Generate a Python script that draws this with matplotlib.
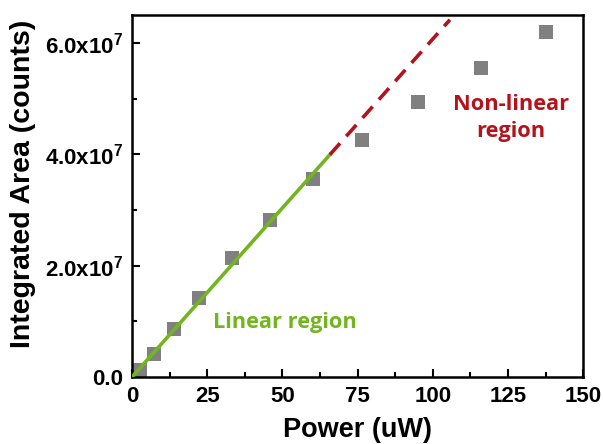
import matplotlib
matplotlib.use("Agg")
import matplotlib.pyplot as plt
from matplotlib.ticker import MultipleLocator
import numpy as np

plt.rcParams['font.family'] = ['Liberation Sans', 'DejaVu Sans']
plt.rcParams['mathtext.fontset'] = 'custom'
plt.rcParams['mathtext.rm'] = 'Liberation Sans:bold'
plt.rcParams['mathtext.bf'] = 'Liberation Sans:bold'
plt.rcParams['mathtext.default'] = 'bf'

# Data
power_uW = [2.7, 7.3, 13.9, 22.3, 33.2, 46.0, 60.3, 76.4, 95.2, 116.1, 137.7]
area_counts = [0.12e7, 0.41e7, 0.86e7, 1.42e7, 2.13e7, 2.82e7, 3.55e7, 4.25e7, 4.93e7, 5.55e7, 6.20e7]
fit_slope = 6.07e5
linear_x = [0, 65.8]
nonlinear_x = [65.8, 105.7]
yticks = [0, 2e7, 4e7, 6e7]
ytick_labels = ["0.0", r"2.0x10$^{7}$", r"4.0x10$^{7}$", r"6.0x10$^{7}$"]
xticks = [0, 25, 50, 75, 100, 125, 150]

green = '#72B51E'
red = '#B5121B'

fig = plt.figure(figsize=(6.03, 4.44), dpi=100)
ax = fig.add_axes([0.219, 0.151, 0.748, 0.815])

ax.plot(power_uW, area_counts, 's', color='#808080', markersize=10.5,
        markeredgewidth=0, clip_on=False, zorder=2)
lx = np.array(linear_x)
ax.plot(lx, fit_slope * lx, '-', color=green, lw=2.6, zorder=3)
nx = np.array(nonlinear_x)
ax.plot(nx, fit_slope * nx, '--', color=red, lw=2.6, dashes=(4.2, 2.6), zorder=3)

ax.text(50.9, 0.97e7, "Linear region", color=green, fontsize=15.7,
        fontweight='bold', family=['Open Sans', 'DejaVu Sans'], ha='center', va='center')
ax.text(126, 4.65e7, "Non-linear\nregion", color=red, fontsize=15.7,
        fontweight='bold', family=['Open Sans', 'DejaVu Sans'], ha='center', va='center',
        linespacing=1.35)

ax.set_xlim(0, 150)
ax.set_ylim(0, 6.5e7)
ax.set_xticks(xticks)
ax.set_xticklabels([str(v) for v in xticks])
ax.set_yticks(yticks)
ax.set_yticklabels(ytick_labels)
ax.xaxis.set_minor_locator(MultipleLocator(12.5))
ax.yaxis.set_minor_locator(MultipleLocator(1e7))

ax.tick_params(axis='both', which='major', direction='in', length=6, width=1.5,
               labelsize=16, top=False, right=False, pad=6.5)
ax.tick_params(axis='both', which='minor', direction='in', length=3.5, width=1.5,
               top=False, right=False)
for lab in ax.get_xticklabels() + ax.get_yticklabels():
    lab.set_fontweight('bold')
for s in ax.spines.values():
    s.set_linewidth(1.8)

ax.set_xlabel("Power (uW)", fontsize=19.5, fontweight='bold')
ax.set_ylabel("Integrated Area (counts)", fontsize=20.5, fontweight='bold')
ax.xaxis.set_label_coords(0.5, -0.112)
ax.yaxis.set_label_coords(-0.212, 0.533)

fig.savefig("out.png", dpi=100)
